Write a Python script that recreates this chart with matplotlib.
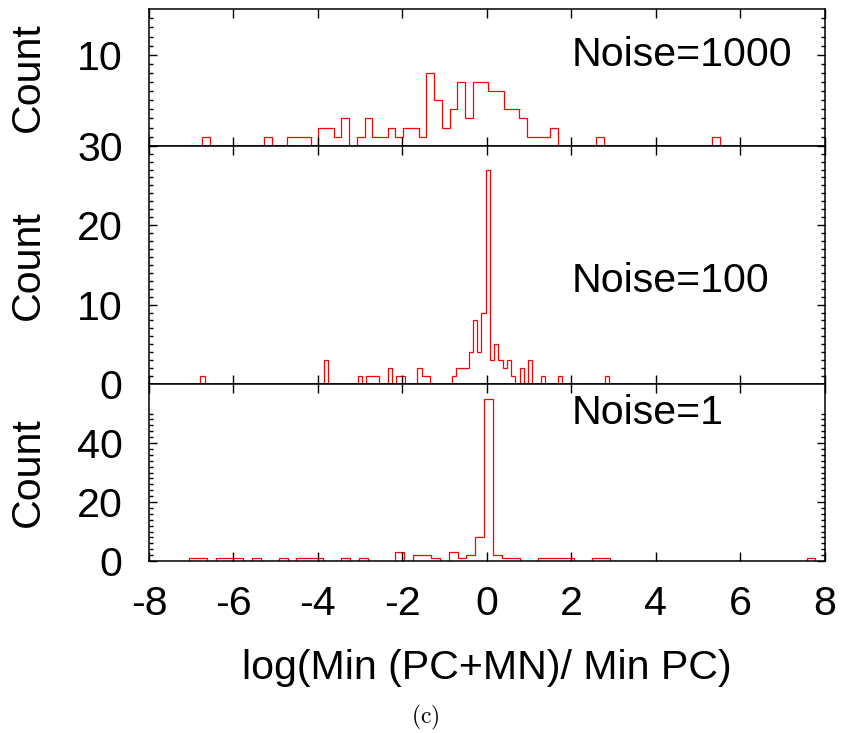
import numpy as np
import matplotlib.pyplot as plt
from matplotlib.ticker import FixedLocator

plt.rcParams['font.family'] = ['Liberation Sans', 'DejaVu Sans']
plt.rcParams['mathtext.fontset'] = 'cm'
plt.rcParams['axes.unicode_minus'] = False

# histogram counts per bin (first bin left edge, bin width, counts)
noise1000_start = -6.736
noise1000_width = 0.1829
noise1000_counts = [1, 0, 0, 0, 0, 0, 0, 0, 1, 0, 0, 1, 1, 1, 0, 2, 2, 1, 3, 0,
                    1, 3, 1, 1, 2, 1, 2, 2, 1, 8, 5, 2, 4, 7, 3, 7, 7, 6, 6, 4,
                    4, 3, 1, 1, 1, 2, 0, 0, 0, 0, 0, 1, 0, 0, 0, 0, 0, 0, 0, 0,
                    0, 0, 0, 0, 0, 0, 1]

noise100_start = -6.783
noise100_width = 0.1008
noise100_counts = [1, 0, 0, 0, 0, 0, 0, 0, 0, 0, 0, 0, 0, 0, 0, 0, 0, 0, 0, 0,
                   0, 0, 0, 0, 0, 0, 0, 0, 0, 3, 0, 0, 0, 0, 0, 0, 0, 1, 0, 1,
                   1, 1, 0, 0, 2, 0, 1, 1, 0, 0, 0, 2, 1, 1, 0, 0, 0, 0, 0, 1,
                   2, 2, 2, 4, 8, 4, 9, 27, 3, 5, 3, 2, 3, 1, 0, 2, 0, 3, 0, 0,
                   1, 0, 0, 0, 1, 0, 0, 0, 0, 0, 0, 0, 0, 0, 0, 1]

noise1_start = -7.051
noise1_width = 0.2119
noise1_counts = [1, 1, 0, 1, 1, 1, 0, 1, 0, 0, 1, 0, 1, 1, 1, 0, 0, 1, 0, 1,
                 0, 0, 0, 3, 0, 2, 2, 1, 0, 3, 1, 2, 8, 55, 2, 1, 1, 0, 0, 1,
                 1, 1, 1, 0, 0, 1, 1, 0, 0, 0, 0, 0, 0, 0, 0, 0, 0, 0, 0, 0,
                 0, 0, 0, 0, 0, 0, 0, 0, 0, 1]

panels = [
    ("Noise=1000", noise1000_start, noise1000_width, noise1000_counts,
     15, [10], list(range(1, 15)), 10),
    ("Noise=100", noise100_start, noise100_width, noise100_counts,
     30, [0, 10, 20, 30], list(range(1, 30)), 13),
    ("Noise=1", noise1_start, noise1_width, noise1_counts,
     60, [0, 20, 40], list(range(2, 52, 2)), 50),
]

W, H = 846, 733
fig = plt.figure(figsize=(W / 100, H / 100), dpi=100)

left = 149 / W
width = (824.7 - 149) / W
rows = [(9.3, 145.7), (145.7, 384.0), (384.0, 561.0)]

fs = 29.6
for i, (name, start, bw, counts, ymax, majors, minors, ylab) in enumerate(panels):
    top, bot = rows[i]
    ax = fig.add_axes([left, 1 - bot / H, width, (bot - top) / H])
    edges = start + bw * np.arange(len(counts) + 1)
    ax.stairs(counts, edges, color='red', lw=0.9, baseline=0)
    ax.set_xlim(-8, 8)
    ax.set_ylim(0, ymax)
    ax.set_xticks(np.arange(-8, 9, 2))
    ax.yaxis.set_major_locator(FixedLocator(majors))
    ax.yaxis.set_minor_locator(FixedLocator([m for m in minors if m not in majors]))
    ax.tick_params(axis='both', which='both', direction='in', top=True, right=True,
                   labelsize=fs, width=1.0, color='black')
    ax.tick_params(axis='x', which='major', length=6.5, pad=17)
    ax.tick_params(axis='y', which='major', length=5.5, pad=19)
    ax.tick_params(axis='y', which='minor', length=2.7)
    for sp in ax.spines.values():
        sp.set_linewidth(1.1)
        sp.set_zorder(3)
    if i < 2:
        ax.tick_params(axis='x', labelbottom=False)
    ax.text(2.0, ylab, name, fontsize=fs, ha='left', va='center')
    fig.text(28 / W, 1 - (top + bot) / 2 / H, 'Count', rotation=90,
             fontsize=fs, ha='center', va='center')

fig.text(486.8 / W, 1 - 668 / H, 'log(Min (PC+MN)/ Min PC)', fontsize=fs,
         ha='center', va='center')
fig.text(425 / W, 1 - 717 / H, r'$\mathrm{(c)}$', fontsize=17,
         ha='center', va='center')

fig.savefig('out.png', dpi=100)
